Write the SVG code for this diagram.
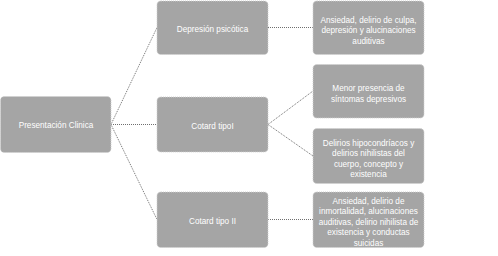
<svg xmlns="http://www.w3.org/2000/svg" width="498" height="256" viewBox="0 0 498 256">
<style>
.box{fill:#a5a5a5;stroke:#d0d0d0;stroke-width:1;stroke-dasharray:1 1}
.t{font-family:"Liberation Sans",Arial,sans-serif;font-size:8.2px;fill:#ffffff;text-anchor:middle;dominant-baseline:central}
.c{fill:none;stroke:#6f6f6f;stroke-width:1;stroke-dasharray:1 1}
</style>
<rect width="498" height="256" fill="#ffffff"/>
<g id="connectors">
<line class="c" x1="111" y1="124.5" x2="157" y2="27.5"/>
<line class="c" x1="111" y1="124.5" x2="157" y2="124.5"/>
<line class="c" x1="111" y1="124.5" x2="157" y2="219.5"/>
<line class="c" x1="268" y1="27.5" x2="313" y2="27.5"/>
<line class="c" x1="268" y1="124.5" x2="313" y2="91"/>
<line class="c" x1="268" y1="124.5" x2="313" y2="156"/>
<line class="c" x1="268" y1="219.5" x2="313" y2="219.5"/>
</g>
<g id="root">
<rect class="box" x="0.5" y="96.5" width="110.5" height="56" rx="4"/>
<text class="t" x="56" y="125">Presentación Clinica</text>
</g>
<g id="depresion">
<rect class="box" x="157" y="1" width="111" height="53.5" rx="4"/>
<text class="t" x="212.5" y="29">Depresión psicótica</text>
</g>
<g id="cotard1">
<rect class="box" x="157" y="97" width="111" height="55" rx="4"/>
<text class="t" x="212.5" y="126">Cotard tipoI</text>
</g>
<g id="cotard2">
<rect class="box" x="157" y="192" width="111" height="55.5" rx="4"/>
<text class="t" x="212.5" y="221">Cotard tipo II</text>
</g>
<g id="sintomas1">
<rect class="box" x="313" y="1" width="111" height="53.5" rx="4"/>
<text class="t" x="368.5" y="20">Ansiedad, delirio de culpa,</text>
<text class="t" x="368.5" y="30.5">depresión y alucinaciones</text>
<text class="t" x="368.5" y="41">auditivas</text>
</g>
<g id="sintomas2">
<rect class="box" x="313" y="64.5" width="111" height="53.5" rx="4"/>
<text class="t" x="368.5" y="88.5">Menor presencia de</text>
<text class="t" x="368.5" y="99">síntomas depresivos</text>
</g>
<g id="sintomas3">
<rect class="box" x="313" y="128.5" width="111" height="55" rx="4"/>
<text class="t" x="368.5" y="143">Delirios hipocondríacos y</text>
<text class="t" x="368.5" y="153.5">delirios nihilistas del</text>
<text class="t" x="368.5" y="164">cuerpo, concepto y</text>
<text class="t" x="368.5" y="174.5">existencia</text>
</g>
<g id="sintomas4">
<rect class="box" x="313" y="192" width="111" height="55.5" rx="4"/>
<text class="t" x="368.5" y="201">Ansiedad, delirio de</text>
<text class="t" x="368.5" y="211.5">inmortalidad, alucinaciones</text>
<text class="t" x="368.5" y="222">auditivas, delirio nihilista de</text>
<text class="t" x="368.5" y="232.5">existencia y conductas</text>
<text class="t" x="368.5" y="243">suicidas</text>
</g>
</svg>
